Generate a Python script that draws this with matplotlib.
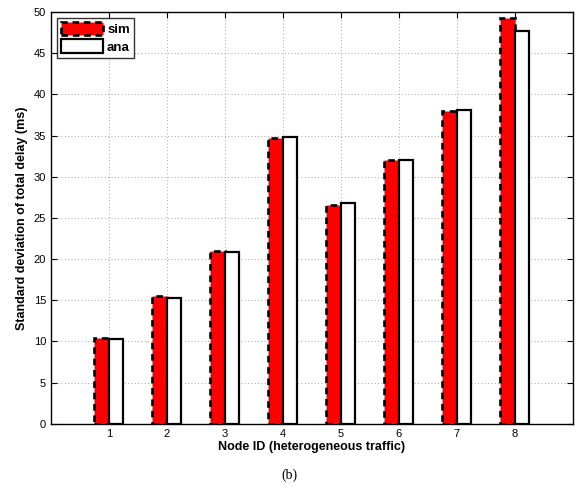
import matplotlib
matplotlib.use("Agg")
import matplotlib.pyplot as plt
import numpy as np

# Values
nodes = [1, 2, 3, 4, 5, 6, 7, 8]
sim = [10.4, 15.5, 21.0, 34.7, 26.6, 32.0, 38.0, 49.3]
ana = [10.3, 15.3, 20.8, 34.8, 26.8, 32.0, 38.1, 47.7]

plt.rcParams['font.family'] = ['Liberation Sans', 'DejaVu Sans']

fig = plt.figure(figsize=(5.76, 4.98), dpi=100)
ax = fig.add_axes([0.0885, 0.149, 0.906, 0.827])

x = np.array(nodes)
w = 0.25
ax.bar(x - w / 2, sim, width=w, color='red', edgecolor='black',
       linestyle=(0, (2.5, 1.8)), linewidth=1.9, label='sim', zorder=3)
ax.bar(x + w / 2, ana, width=w, color='white', edgecolor='black',
       linewidth=1.6, label='ana', zorder=3)

ax.set_xlim(0, 9)
ax.set_ylim(0, 50)
ax.set_xticks(nodes)
ax.set_yticks(np.arange(0, 51, 5))
ax.tick_params(direction='in', labelsize=8, top=True, right=True, length=4)
ax.grid(True, linestyle=(0, (1, 3)), color='#888888', linewidth=0.6, zorder=0)
for s in ax.spines.values():
    s.set_linewidth(1.0)

ax.set_xlabel('Node ID (heterogeneous traffic)', fontsize=9, fontweight='bold', labelpad=2)
ax.set_ylabel('Standard deviation of total delay (ms)', fontsize=9, fontweight='bold', labelpad=4)

leg = ax.legend(loc='upper left', fontsize=9.5, frameon=True, fancybox=False,
                edgecolor='black', handlelength=3.2, handleheight=1.2,
                borderaxespad=0.45, handletextpad=0.3, borderpad=0.3,
                labelspacing=0.25)
leg.get_frame().set_linewidth(1.0)
for t in leg.get_texts():
    t.set_fontweight('bold')

fig.text(0.503, 0.045, '(b)', ha='center', va='center', fontsize=10,
         family=['Liberation Serif', 'DejaVu Serif'])

fig.savefig('out.png', dpi=100)
